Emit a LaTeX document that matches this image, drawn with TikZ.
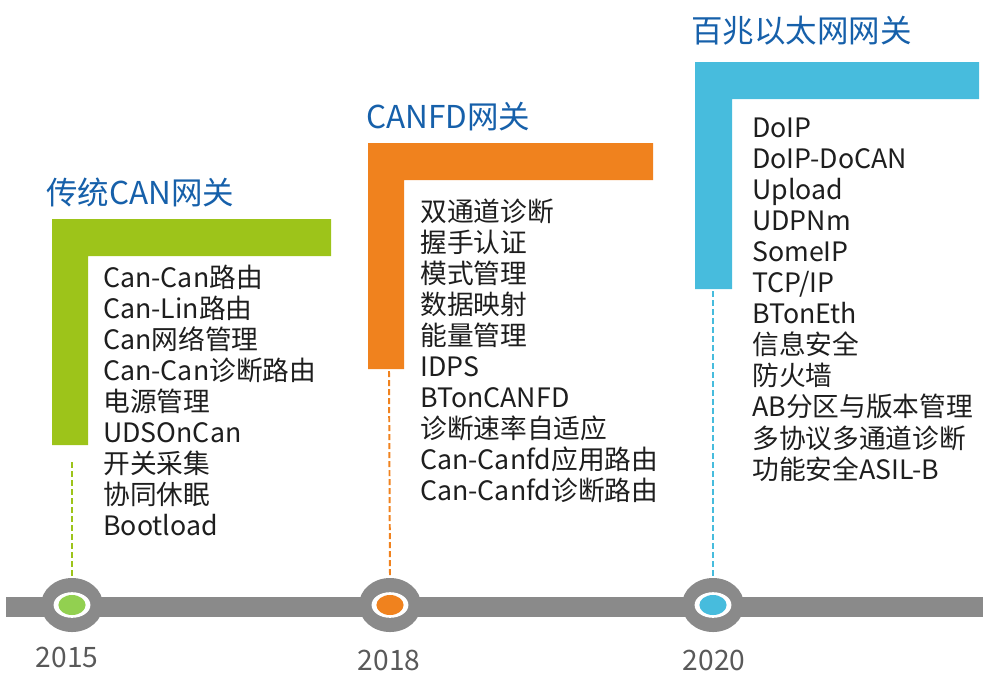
\documentclass[tikz,border=0pt]{standalone}
\usepackage{fontspec}
\setmainfont{Noto Sans CJK SC}
\usetikzlibrary{shapes.geometric}
\definecolor{barGray}{HTML}{8A8A8A}
\definecolor{gwGreen}{HTML}{9DC41A}
\definecolor{gwOrange}{HTML}{F0821E}
\definecolor{gwBlue}{HTML}{47BCDD}
\definecolor{dotGreen}{HTML}{92D050}
\definecolor{titleBlue}{HTML}{1660AA}
\definecolor{yearGray}{HTML}{595959}
\definecolor{itemBlack}{HTML}{1E1E1E}

\begin{document}
\begin{tikzpicture}
      [x=0.025cm, y=-0.025cm,
        hub/.style={
          ellipse,
          fill=barGray,
          inner sep=0pt,
          minimum width=1.55cm,
          minimum height=1.35cm},
        ring/.style={ellipse, fill=white, inner sep=0pt,
          minimum width=0.92cm, minimum height=0.64cm},
        core/.style={ellipse, inner sep=0pt,
          minimum width=0.68cm, minimum height=0.5cm},
        stem/.style={draw, line width=1.4pt, dash pattern=on 4.3pt off 2.1pt},
        title/.style={anchor=base west, inner sep=0pt, text=titleBlue,
          font=\fontsize{22.4}{26}\selectfont},
        item/.style={anchor=base west, inner sep=0pt, text=itemBlack,
          font=\fontsize{19}{23}\selectfont},
        year/.style={inner sep=0pt, text=yearGray,
          font=\fontsize{20}{24}\selectfont}]
      \useasboundingbox (0,0) rectangle (983,672);

      % timeline
      \fill[barGray] (6,597) rectangle (983,617);
      \node[hub] (hub2015) at (72,605) {};
      \node[hub] (hub2018) at (390,605) {};
      \node[hub] (hub2020) at (713,605) {};
      \node[ring] at (hub2015) {};
      \node[ring] at (hub2018) {};
      \node[ring] at (hub2020) {};
      \node[core, fill=dotGreen] (dot2015) at (hub2015) {};
      \node[core, fill=gwOrange] (dot2018) at (hub2018) {};
      \node[core, fill=gwBlue] (dot2020) at (hub2020) {};
      \node[year] (year2015) at (67,657) {2015};
      \node[year] (year2018) at (389,660) {2018};
      \node[year] (year2020) at (714,660) {2020};

      % brackets
      \fill[gwGreen] (52,219) -| (331,256) -| (88,445) -| cycle;
      \fill[gwOrange] (368,143) -| (653,180) -| (404,369) -| cycle;
      \fill[gwBlue] (695,62) -| (979,99) -| (732,289) -| cycle;
      \coordinate (foot2015) at (72,462);
      \coordinate (foot2018) at (389,371);
      \coordinate (foot2020) at (713,291);
      \draw[stem, gwGreen] (foot2015) -- (hub2015.north);
      \draw[stem, gwOrange] (foot2018) -- (hub2018.north);
      \draw[stem, gwBlue] (foot2020) -- (hub2020.north);

      % titles
      \node[title] (head2015) at (46,204) {传统CAN网关};
      \node[title] (head2018) at (366,128) {CANFD网关};
      \node[title] (head2020) at (691,42) {百兆以太网网关};

      % feature lists
      \foreach \txt [count=\i from 0] in {Can-Can路由, Can-Lin路由,
          Can网络管理, Can-Can诊断路由, 电源管理, UDSOnCan, 开关采集,
          协同休眠, Bootload}
        \node[item] (can\i) at (103,{287+31.1*\i}) {\txt};
      \foreach \txt [count=\i from 0] in {双通道诊断, 握手认证, 模式管理,
          数据映射, 能量管理, IDPS, BTonCANFD, 诊断速率自适应,
          Can-Canfd应用路由, Can-Canfd诊断路由}
        \node[item] (fd\i) at (420,{221+31.1*\i}) {\txt};
      \foreach \txt [count=\i from 0] in {DoIP, DoIP-DoCAN, Upload, UDPNm,
          SomeIP, TCP/IP, BTonEth, 信息安全, 防火墙, AB分区与版本管理,
          多协议多通道诊断, 功能安全ASIL-B}
        \node[item] (eth\i) at (752,{137+31.1*\i}) {\txt};
    \end{tikzpicture}
\end{document}
